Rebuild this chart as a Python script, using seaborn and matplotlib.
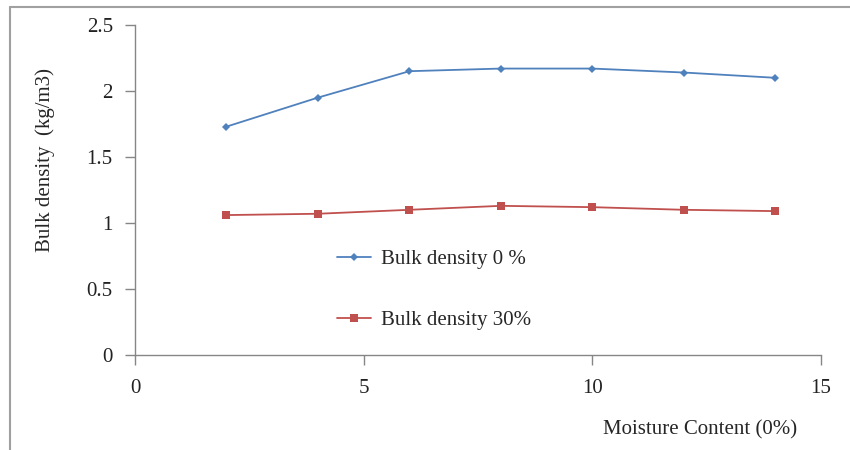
import pandas as pd
import matplotlib
matplotlib.use('Agg')
import matplotlib.pyplot as plt
import seaborn as sns
from matplotlib.lines import Line2D

## Data.
moisture = [2, 4, 6, 8, 10, 12, 14]
density_0 = [1.73, 1.95, 2.15, 2.17, 2.17, 2.14, 2.10]
density_30 = [1.06, 1.07, 1.10, 1.13, 1.12, 1.10, 1.09]
series_names = ['Bulk density 0 %', 'Bulk density 30%']

df = pd.DataFrame({
    'moisture': moisture * 2,
    'density': density_0 + density_30,
    'series': [series_names[0]] * len(moisture) + [series_names[1]] * len(moisture),
})

sns.set_style('white')
plt.rcParams['font.family'] = ['Liberation Serif', 'DejaVu Serif']

fig = plt.figure(figsize=(8.5, 4.5), dpi=100)
ax = fig.add_axes([135 / 850, 1 - 355 / 450, 686 / 850, 330 / 450])

colors = {series_names[0]: '#4F81BD', series_names[1]: '#C0504D'}
markers = {series_names[0]: 'D', series_names[1]: 's'}
sizes = {series_names[0]: 4, series_names[1]: 6}
fs = 15

for name in series_names:
    sub = df[df['series'] == name]
    sns.lineplot(data=sub, x='moisture', y='density', ax=ax, color=colors[name],
                 marker=markers[name], markersize=sizes[name], markeredgewidth=0,
                 linewidth=1.3, label=name)

ax.set_xlim(0, 15)
ax.set_ylim(0, 2.5)
ax.set_xticks([0, 5, 10, 15])
ax.set_yticks([0, 0.5, 1, 1.5, 2, 2.5])
ax.set_yticklabels(['0', '0.5', '1', '1.5', '2', '2.5'])
ax.set_xlabel('')
ax.set_ylabel('')

for s in ['top', 'right']:
    ax.spines[s].set_visible(False)
for s in ['left', 'bottom']:
    ax.spines[s].set_color('#868686')
    ax.spines[s].set_linewidth(1)
ax.tick_params(axis='both', direction='out', length=7, width=1, color='#868686',
               labelsize=fs, labelcolor='#222222', left=True, bottom=True)
ax.tick_params(axis='x', pad=10)
ax.tick_params(axis='y', pad=9)

handles = [Line2D([], [], color=colors[n], marker=markers[n], markersize=sizes[n],
                  markeredgewidth=0, linewidth=1.3) for n in series_names]
ax.legend(handles, series_names, loc='upper left', bbox_to_anchor=(0.279, 0.352),
          frameon=False, fontsize=fs, labelspacing=2.0, handlelength=1.65,
          handletextpad=0.45, borderpad=0)

fig.text(45 / 850, 1 - 160 / 450, 'Bulk density  (kg/m3)', rotation=90,
         ha='center', va='center', fontsize=fs)
fig.text(700 / 850, 1 - 430 / 450, 'Moisture Content (0%)', ha='center',
         va='center', fontsize=fs)

# outer frame (only top and left edges visible)
fig.add_artist(Line2D([10 / 850, 10 / 850], [0, 1 - 7 / 450], color='#A0A0A0', linewidth=1.5))
fig.add_artist(Line2D([10 / 850, 1], [1 - 7 / 450, 1 - 7 / 450], color='#A0A0A0', linewidth=1.5))

fig.savefig('out.png', dpi=100)
